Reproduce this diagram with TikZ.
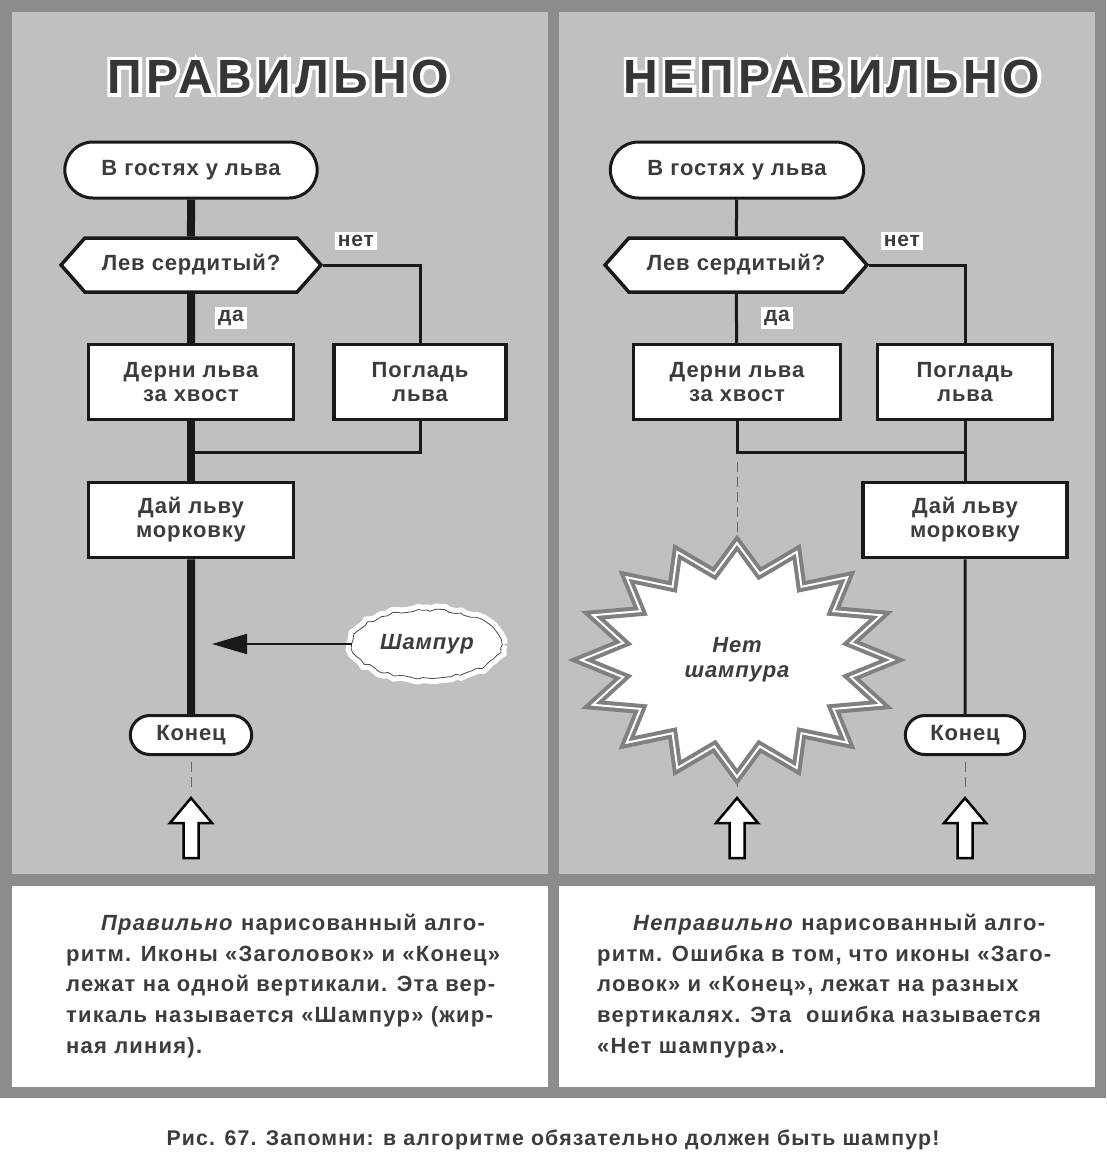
\documentclass[tikz,border=0pt]{standalone}
\usepackage{fontspec}
\setmainfont{Liberation Sans}
\newfontfamily\boxfont[LetterSpace=4.0]{Liberation Sans}
\newfontfamily\notefont[LetterSpace=5.5]{Liberation Sans}
\newfontfamily\titlefont[LetterSpace=9.0]{Liberation Sans}
\newfontfamily\titleglow[LetterSpace=9.0, FakeBold=14]{Liberation Sans}
\usetikzlibrary{shapes.geometric, shapes.misc, shapes.symbols, arrows.meta, positioning, decorations.pathmorphing}

\definecolor{frame}{HTML}{8C8C8C}
\definecolor{panel}{HTML}{C0C0C0}
\definecolor{ink}{HTML}{3C3C3C}
\definecolor{burstgray}{HTML}{808080}

% title with a white rim: a fake-bold white copy under the dark letters
\newcommand{\rimmed}[1]{\rlap{\color{white}\titleglow\bfseries #1}#1}

\tikzstyle{title} = [font=\titlefont\bfseries\fontsize{48}{50}\selectfont, text=ink!90!black]
\tikzstyle{terminal} = [rounded rectangle, draw=black!90, line width=3pt, fill=white, font=\boxfont\bfseries\fontsize{22}{24}\selectfont, text=ink]
\tikzstyle{action} = [rectangle, draw=black!90, line width=3.5pt, fill=white, minimum height=75pt, align=center, font=\boxfont\bfseries\fontsize{22}{24}\selectfont, text=ink]
\tikzstyle{question} = [signal, signal to=west and east, signal pointer angle=97, draw=black!90, line width=3.5pt, fill=white, minimum width=260pt, minimum height=54pt, font=\boxfont\bfseries\fontsize{22}{24}\selectfont, text=ink]
\tikzstyle{answer} = [fill=white, inner sep=3pt, font=\boxfont\bfseries\fontsize{21}{22}\selectfont, text=ink]
\tikzstyle{skewer} = [ellipse, minimum width=150pt, minimum height=68pt, fill=white, draw=black!70, line width=0.8pt, decorate, decoration={random steps, segment length=5pt, amplitude=1.5pt}, preaction={draw=white, line width=11pt}, font=\boxfont\bfseries\itshape\fontsize{22}{24}\selectfont, text=ink]
\tikzstyle{burstline} = [draw=burstgray, line width=4pt, double=white, double distance=2pt, fill=white]
\tikzstyle{bursttext} = [align=center, font=\boxfont\bfseries\itshape\fontsize{22}{25}\selectfont, text=ink]
\tikzstyle{spine} = [line width=8pt, black!90]
\tikzstyle{link} = [line width=3pt, black!90]
\tikzstyle{pointer} = [line width=2pt, black!90, -{Triangle[length=35pt, width=20pt]}]
\tikzstyle{dashline} = [line width=1pt, black!60, dash pattern=on 10pt off 5pt]
\tikzstyle{note} = [anchor=west, inner sep=0pt, align=left, font=\notefont\bfseries\fontsize{22}{30.7}\selectfont, text=ink]
\tikzset{hollowup/.pic={\draw[line width=2.5pt, fill=white, miter limit=4] (0,0) -- (21,25) -- (7.5,25) -- (7.5,60) -- (-7.5,60) -- (-7.5,25) -- (-21,25) -- cycle;}}

\begin{document}
\begin{tikzpicture}[x=1pt, y=-1pt]
\useasboundingbox (0,0) rectangle (1106,1153);

% Frame and panels
\fill[white] (0,0) rectangle (1106,1153);
\fill[frame] (0,0) rectangle (1106,1098);
\fill[panel] (12,12) rectangle (548,874);
\fill[panel] (559,12) rectangle (1095,874);
\fill[white] (12,886) rectangle (548,1087);
\fill[white] (559,886) rectangle (1095,1087);

% Titles
\node (titleL) [title] at (278,77) {\rimmed{ПРАВИЛЬНО}};
\node (titleR) [title] at (832,77) {\rimmed{НЕПРАВИЛЬНО}};

% Left: correct algorithm
\node (startL) [terminal, minimum width=259pt, minimum height=56pt] at (191,170) {В гостях у льва};
\node (hexL) [question] at (191,265) {Лев сердитый?};
\node (dernL) [action, minimum width=205pt] at (191,382) {Дерни льва\\за хвост};
\node (pogL) [action, minimum width=172pt] at (420,382) {Погладь\\льва};
\node (daiL) [action, minimum width=205pt] at (191,520) {Дай льву\\морковку};
\node (endL) [terminal, minimum width=128pt, minimum height=39pt] at (191,735) {Конец};
\node (shampur) [skewer] at (427,644) {Шампур};
\coordinate (mergeL) at (191,452);
\coordinate (spineTip) at (212,644);
\coordinate (upL) at (191,798);

\draw[spine] (startL) -- (hexL);
\draw[spine] (hexL) -- (dernL);
\draw[spine] (dernL) -- (daiL);
\draw[spine] (daiL) -- (endL);
\draw[link] (hexL.east) -| (pogL.north);
\draw[link] (pogL.south) |- (mergeL);
\draw[pointer] (shampur.west) -- (spineTip);
\draw[dashline, shorten <=6pt, shorten >=6pt] (endL.south) -- (upL);
\pic at (upL) {hollowup};

\node (noL) [answer] at (356,241) {нет};
\node (yesL) [answer] at (231,318) {да};

% Right: wrong algorithm
\node (startR) [terminal, minimum width=260pt, minimum height=56pt] at (737,170) {В гостях у льва};
\node (hexR) [question, minimum width=262pt] at (736,265) {Лев сердитый?};
\node (dernR) [action, minimum width=207pt] at (737,382) {Дерни льва\\за хвост};
\node (pogR) [action, minimum width=175pt] at (965,382) {Погладь\\льва};
\node (daiR) [action, minimum width=204pt] at (965,520) {Дай льву\\морковку};
\node (endR) [terminal, minimum width=126pt, minimum height=39pt] at (965,735) {Конец};
\coordinate (breakR) at (737,452);
\coordinate (mergeR) at (965,452);
\coordinate (burstC) at (737,660);
\coordinate (upM) at (737,798);
\coordinate (upR) at (965,798);

\draw[link] (startR) -- (hexR);
\draw[link] (hexR) -- (dernR);
\draw[link] (hexR.east) -| (pogR.north);
\draw[link] (dernR.south) |- (mergeR);
\draw[link] (pogR) -- (daiR);
\draw[link] (daiR) -- (endR);
\draw[dashline, shorten <=10pt, shorten >=6pt] (breakR) -- (upM);
\draw[dashline, shorten <=6pt, shorten >=6pt] (endR.south) -- (upR);

% the burst
\begin{scope}[shift={(burstC)}]
\draw[burstline] (90:156 and 117) \foreach \k in {1,...,15} { -- ({90+\k*22.5-11.25}:116 and 88) -- ({90+\k*22.5}:156 and 117) } -- ({90-11.25}:116 and 88) -- cycle;
\end{scope}
\node (burst) [bursttext] at (burstC) {Нет\\шампура};

\pic at (upM) {hollowup};
\pic at (upR) {hollowup};

\node (noR) [answer] at (902,241) {нет};
\node (yesR) [answer] at (777,318) {да};

% Notes
\node (noteL) [note] at (66,986) {\hspace*{35pt}\textit{Правильно} нарисованный алго-\\
ритм. Иконы «Заголовок» и «Конец»\\
лежат на одной вертикали. Эта вер-\\
тикаль называется «Шампур» (жир-\\
ная линия).};
\node (noteR) [note] at (597,986) {\hspace*{36pt}\textit{Неправильно} нарисованный алго-\\
ритм. Ошибка в том, что иконы «Заго-\\
ловок» и «Конец», лежат на разных\\
вертикалях. Эта~ ошибка называется\\
«Нет шампура».};

\node (caption) [font=\notefont\bfseries\fontsize{21.3}{24}\selectfont, text=ink] at (553,1140) {Рис. 67. Запомни: в алгоритме обязательно должен быть шампур!};
\end{tikzpicture}
\end{document}
